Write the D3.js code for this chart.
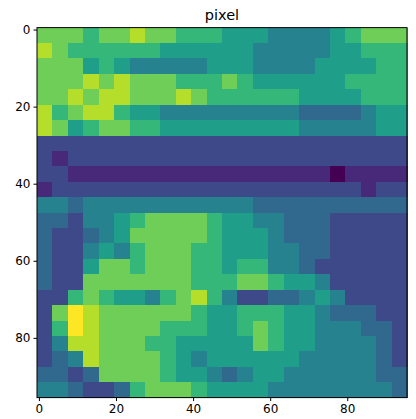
<!DOCTYPE html>
<html>
<head>
<meta charset="utf-8">
<script src="https://cdn.jsdelivr.net/npm/d3@7"></script>
<style>
  body { margin: 0; background: #fff; }
  text { font-family: "DejaVu Sans", sans-serif; }
</style>
</head>
<body>
<svg id="chart" width="416" height="419"></svg>
<script>
// image intensities (0-9), each cell = 4x4 pixels of the 96x96 image
const cellSize = 4;
const rows = [
  "777677877666555444456777",
  "876666665555554444455666",
  "777565444445554444555566",
  "777878777666765555556666",
  "778788777876666665555666",
  "867886554444444443333455",
  "875677665555555554444455",
  "222222222222222222222222",
  "212222222222222222222222",
  "221111111111111111101111",
  "122222222222222222222122",
  "443444444444443333333333",
  "332445677776554433322222",
  "322345777776555433322222",
  "322454677766555443322222",
  "322577677766566443222222",
  "322777777766677655422222",
  "226765546786422334542222",
  "279877777765566655433322",
  "269877776665567655444332",
  "248877766555557655444432",
  "234877776545555554444432",
  "332377776554345544444433",
  "443223677765555444444443"
];
const xTicks = [0, 20, 40, 60, 80];
const yTicks = [0, 20, 40, 60, 80];

const cells = [];
rows.forEach((r, i) => r.split("").forEach((c, j) => cells.push({ row: i, col: j, v: +c })));

const mLeft = 37, mTop = 27.6, size = 370;
const svg = d3.select("#chart");
const x = d3.scaleLinear().domain([-0.5, 95.5]).range([mLeft, mLeft + size]);
const y = d3.scaleLinear().domain([-0.5, 95.5]).range([mTop, mTop + size]);
const color = v => d3.interpolateViridis(v / 9);

svg.append("g")
  .attr("shape-rendering", "crispEdges")
  .selectAll("rect")
  .data(cells)
  .enter()
  .append("rect")
  .attr("x", d => x(d.col * cellSize - 0.5))
  .attr("y", d => y(d.row * cellSize - 0.5))
  .attr("width", x(cellSize) - x(0) + 0.5)
  .attr("height", y(cellSize) - y(0) + 0.5)
  .attr("fill", d => color(d.v));

svg.append("rect")
  .attr("x", mLeft).attr("y", mTop).attr("width", size).attr("height", size)
  .attr("fill", "none").attr("stroke", "#000").attr("stroke-width", 1);

const xAxis = svg.append("g")
  .attr("transform", `translate(0,${mTop + size})`)
  .call(d3.axisBottom(x).tickValues(xTicks).tickSize(3.5).tickPadding(3));
const yAxis = svg.append("g")
  .attr("transform", `translate(${mLeft},0)`)
  .call(d3.axisLeft(y).tickValues(yTicks).tickSize(3.5).tickPadding(3));
[xAxis, yAxis].forEach(a => {
  a.select(".domain").remove();
  a.selectAll("text").attr("font-size", 12).attr("fill", "#000")
    .style("font-family", "DejaVu Sans, sans-serif");
  a.selectAll("line").attr("stroke", "#000");
});

svg.append("text")
  .attr("x", mLeft + size / 2).attr("y", mTop - 8)
  .attr("text-anchor", "middle").attr("font-size", 14.5)
  .text("pixel");
</script>
</body>
</html>
